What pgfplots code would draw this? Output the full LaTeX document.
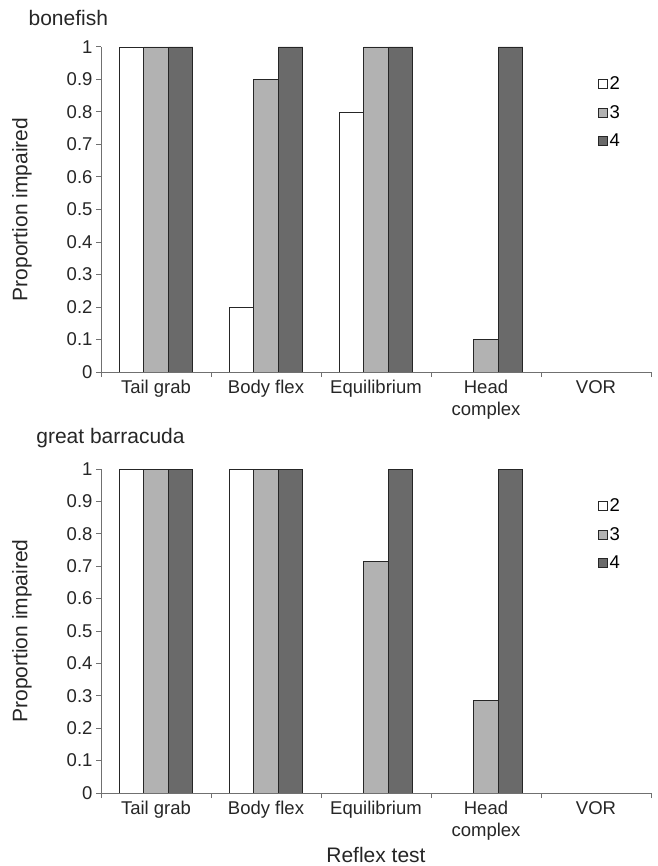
\documentclass[border=0pt]{standalone}
\usepackage{pgfplots}
\pgfplotsset{compat=1.18}
\usepackage{pgfplotstable}
\usepackage{fontspec}
\setmainfont{Liberation Sans}

\definecolor{midgray}{HTML}{B2B2B2}
\definecolor{darkgray}{HTML}{6A6A6A}
\definecolor{axisgray}{HTML}{707070}

% proportion impaired per reflex test (0 Tail grab ... 4 VOR); a,b,c = reflex scores 2,3,4
\pgfplotstableread{
x a b c
0 1 1 1
1 0.2 0.9 1
2 0.8 1 1
3 0 0.1 1
4 0 0 0
}\bonefish

\pgfplotstableread{
x a b c
0 1 1 1
1 1 1 1
2 0 0.714 1
3 0 0.286 1
4 0 0 0
}\barracuda

\pgfplotsset{
  reflexaxis/.style={
    scale only axis,
    width=550pt, height=325pt,
    anchor=south west,
    clip=false, axis on top,
    xmin=-0.5, xmax=4.5, ymin=0, ymax=1,
    axis x line=bottom, axis y line=left,
    axis line style={-, draw=axisgray, line width=1pt},
    xtick={-0.5,0.5,1.5,2.5,3.5,4.5},
    x tick label as interval,
    xticklabels={Tail grab, Body flex, Equilibrium, Head\\complex, VOR},
    xticklabel style={align=center, font=\fontsize{18.5}{22}\selectfont, text=black!85},
    ytick={0,0.1,0.2,0.3,0.4,0.5,0.6,0.7,0.8,0.9,1},
    yticklabel style={font=\fontsize{18.5}{22}\selectfont, text=black!85},
    /pgf/number format/assume math mode=true,
    tick align=outside,
    major tick length=5pt,
    tick style={draw=axisgray, line width=1pt},
    ylabel={Proportion impaired},
    ylabel style={at={(axis description cs:-0.1436,0.5)}, anchor=center,
      font=\fontsize{21}{24}\selectfont, text=black!85},
    ybar=0pt, bar width=24.5pt,
    every axis plot/.append style={draw=black!85, line width=0.9pt},
    legend style={draw=none, fill=none, font=\fontsize{18.5}{22}\selectfont,
      anchor=north west, row sep=10pt, inner sep=0pt,
      /tikz/every even column/.append style={column sep=1pt}},
    legend image code/.code={\draw[#1, line width=0.7pt] (0pt,-4.5pt) rectangle (9pt,4.5pt);},
    legend cell align=left,
  }
}

\begin{document}
\begin{tikzpicture}
\path[use as bounding box] (0pt,0pt) rectangle (657pt,-866pt);

\begin{axis}[reflexaxis, at={(101pt,-372pt)},
    legend style={at={(axis description cs:0.903,0.915)}}]
  \addplot[fill=white] table[x=x,y=a] {\bonefish};
  \addplot[fill=midgray] table[x=x,y=b] {\bonefish};
  \addplot[fill=darkgray] table[x=x,y=c] {\bonefish};
  \legend{2,3,4}
  \node[anchor=west, font=\fontsize{21}{24}\selectfont, text=black!85]
    at (axis description cs:-0.138,1.089) {bonefish};
\end{axis}

\begin{axis}[reflexaxis, at={(101pt,-793pt)}, height=324pt,
    legend style={at={(axis description cs:0.903,0.915)}},
    xlabel={Reflex test},
    xlabel style={at={(axis description cs:0.5,-0.191)}, anchor=center,
      font=\fontsize{21}{24}\selectfont, text=black!85}]
  \addplot[fill=white] table[x=x,y=a] {\barracuda};
  \addplot[fill=midgray] table[x=x,y=b] {\barracuda};
  \addplot[fill=darkgray] table[x=x,y=c] {\barracuda};
  \legend{2,3,4}
  \node[anchor=west, font=\fontsize{21}{24}\selectfont, text=black!85]
    at (axis description cs:-0.124,1.096) {great barracuda};
\end{axis}
\end{tikzpicture}
\end{document}
